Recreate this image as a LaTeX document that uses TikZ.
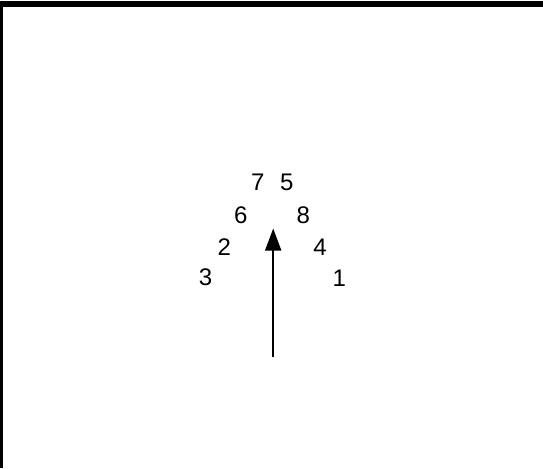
\documentclass[tikz,border=0pt]{standalone}
\usepackage{fontspec}
\setmainfont{Liberation Sans}
\usepackage{tikz}
\usetikzlibrary{arrows.meta}

\begin{document}
\begin{tikzpicture}[x=0.75pt,y=-0.75pt,
  num/.style={inner sep=0pt,font=\fontsize{18}{21}\selectfont},
]
\useasboundingbox (0,0) rectangle (543,468);
% frame, only top and left edges show
\fill[black] (0,1) rectangle (543,7);
\fill[black] (0,1) rectangle (3,468);
\node[num] (n7) at (257.7,182.7) {7};
\node[num] (n5) at (286.7,182.7) {5};
\node[num] (n6) at (240.7,215) {6};
\node[num] (n8) at (303.3,215) {8};
\node[num] (n2) at (224.3,247.3) {2};
\node[num] (n4) at (320,247.3) {4};
\node[num] (n3) at (205.5,277.5) {3};
\node[num] (n1) at (339.3,278) {1};
\coordinate (tail) at (273.2,356.7);
\coordinate (head) at (273.2,228.5);
\draw[line width=1.3pt,-{Triangle[length=16.5pt,width=12pt]}] (tail) -- (head);
\end{tikzpicture}
\end{document}
